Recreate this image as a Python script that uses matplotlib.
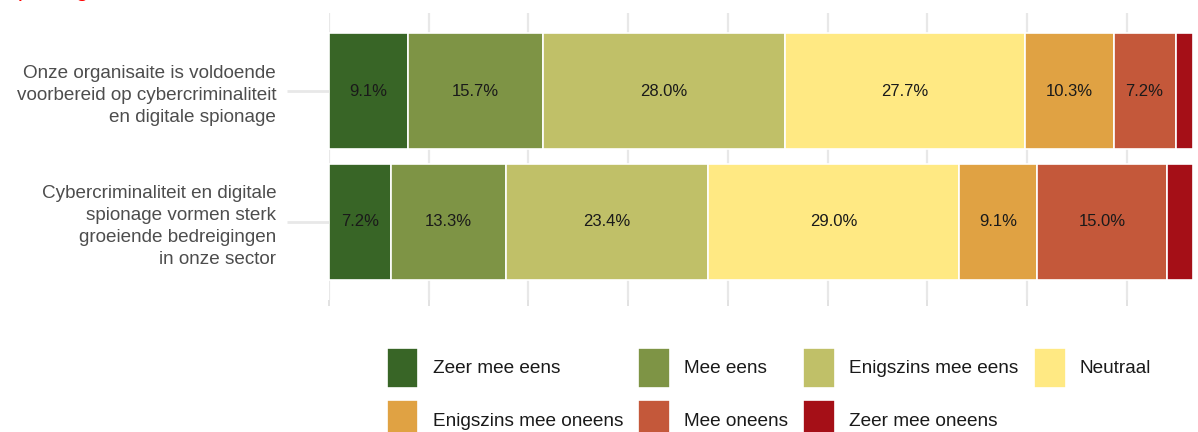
import numpy as np
import matplotlib
matplotlib.use("Agg")
import matplotlib.pyplot as plt

plt.rcParams['font.family'] = ['Liberation Sans', 'DejaVu Sans']

# stellingen (van boven naar onder)
stellingen = [
    "Onze organisaite is voldoende\nvoorbereid op cybercriminaliteit\nen digitale spionage",
    "Cybercriminaliteit en digitale\nspionage vormen sterk\ngroeiende bedreigingen\nin onze sector",
]

antwoorden = ["Zeer mee eens", "Mee eens", "Enigszins mee eens", "Neutraal",
              "Enigszins mee oneens", "Mee oneens", "Zeer mee oneens"]

# percentages per antwoord, per stelling
zeer_eens = [9.1, 7.2]
mee_eens = [15.7, 13.3]
enigszins_eens = [28.0, 23.4]
neutraal = [27.7, 29.0]
enigszins_oneens = [10.3, 9.1]
mee_oneens = [7.2, 15.0]
zeer_oneens = [2.0, 3.0]

kleuren = ["#386526", "#7e9445", "#c0c068", "#ffe983",
           "#e0a243", "#c4583a", "#a50f17"]

reeksen = [zeer_eens, mee_eens, enigszins_eens, neutraal,
           enigszins_oneens, mee_oneens, zeer_oneens]

fig = plt.figure(figsize=(11.98, 4.32), dpi=100)
ax = fig.add_axes([329/1198, (432-300)/432, (1193-329)/1198, (300-13)/432])

y = np.array([1, 0])  # eerste stelling boven
links = np.zeros(len(stellingen))
handles = []
for naam, waarden, kleur in zip(antwoorden, reeksen, kleuren):
    waarden = np.array(waarden)
    b = ax.barh(y, waarden, left=links, height=0.89, color=kleur,
                edgecolor='white', linewidth=1.2, label=naam, zorder=3)
    handles.append(b)
    for yi, l, w in zip(y, links, waarden):
        if w >= 5:
            ax.text(l + w/2, yi, f"{w:.1f}%", ha='center', va='center',
                    fontsize=12, color='#1a1a1a', zorder=4)
    links = links + waarden

ax.set_xlim(0, 100)
ax.set_ylim(-0.6, 1.6)
ax.set_xticks(np.arange(0, 100, 11.54))
ax.set_xticklabels([])
ax.set_yticks(y)
ax.set_yticklabels(stellingen, fontsize=13.6, color='#4d4d4d', linespacing=1.38)
ax.grid(axis='x', color='#e8e8e8', linewidth=1.6, zorder=0)
for s in ax.spines.values():
    s.set_visible(False)
ax.tick_params(axis='y', length=30, width=2, color='#e8e8e8', pad=8)
ax.tick_params(axis='x', length=4, width=1.2, color='#dddddd')

# rode titel, grotendeels buiten beeld
fig.text(6/1198, 1 + 4/432, "spionage", color='red', fontsize=17,
         ha='left', va='baseline')

volgorde = [0, 4, 1, 5, 2, 6, 3]
fig.legend([handles[i] for i in volgorde], [antwoorden[i] for i in volgorde],
           ncol=4, loc='upper left', bbox_to_anchor=(377/1198, 1 - 338/432),
           frameon=False, fontsize=13.7, handlelength=1.68, handleheight=2.9,
           handletextpad=0.74, columnspacing=0.8, labelspacing=0.62,
           borderpad=0, labelcolor='#1a1a1a')

fig.savefig("out.png", dpi=100)
